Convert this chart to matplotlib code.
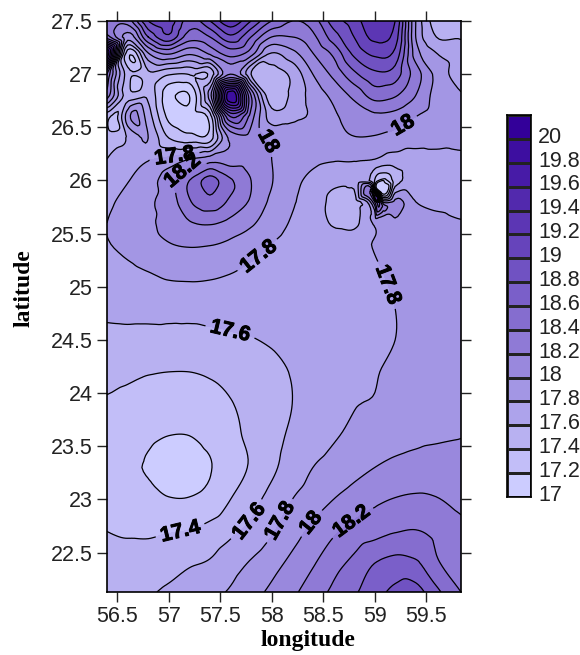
import numpy as np
import matplotlib
matplotlib.use('Agg')
import matplotlib.pyplot as plt
import matplotlib.tri as tri
import matplotlib.patheffects as pe

plt.rcParams['font.family'] = ['Liberation Sans', 'DejaVu Sans']

# grid values, rows run south to north
lon_values = [56.4, 56.6, 56.8, 57.0, 57.2, 57.4, 57.6, 57.8, 58.0, 58.2, 58.4,
              58.6, 58.8, 59.0, 59.2, 59.4, 59.6, 59.84]
lat_values = [22.13, 22.4, 22.7, 23.0, 23.3, 23.6, 23.9, 24.2, 24.5, 24.8, 25.1,
              25.4, 25.6, 25.8, 26.0, 26.2, 26.4, 26.6, 26.8, 27.0, 27.2, 27.35, 27.5]
value_grid = [
    [17.45, 17.55, 17.58, 17.63, 17.70, 17.75, 17.82, 17.93, 18.04, 18.16, 18.30, 18.44, 18.57, 18.72, 18.85, 18.88, 18.65, 18.40],
    [17.45, 17.47, 17.50, 17.53, 17.58, 17.62, 17.72, 17.82, 17.93, 18.05, 18.18, 18.33, 18.45, 18.60, 18.67, 18.63, 18.43, 18.30],
    [17.40, 17.38, 17.37, 17.39, 17.41, 17.47, 17.56, 17.65, 17.78, 17.92, 18.05, 18.17, 18.27, 18.33, 18.39, 18.41, 18.35, 18.25],
    [17.33, 17.29, 17.25, 17.21, 17.21, 17.26, 17.40, 17.53, 17.67, 17.80, 17.90, 18.00, 18.08, 18.16, 18.21, 18.23, 18.21, 18.15],
    [17.27, 17.22, 17.19, 17.14, 17.14, 17.19, 17.32, 17.42, 17.56, 17.69, 17.80, 17.87, 17.94, 18.00, 18.05, 18.08, 18.10, 18.12],
    [17.30, 17.27, 17.23, 17.20, 17.20, 17.25, 17.35, 17.44, 17.54, 17.63, 17.71, 17.78, 17.84, 17.88, 17.92, 17.95, 17.97, 17.99],
    [17.38, 17.36, 17.33, 17.32, 17.32, 17.34, 17.39, 17.46, 17.53, 17.60, 17.66, 17.72, 17.79, 17.81, 17.84, 17.87, 17.89, 17.92],
    [17.45, 17.43, 17.41, 17.40, 17.40, 17.42, 17.46, 17.50, 17.55, 17.61, 17.66, 17.70, 17.75, 17.79, 17.83, 17.86, 17.89, 17.92],
    [17.55, 17.55, 17.54, 17.54, 17.54, 17.55, 17.57, 17.59, 17.62, 17.65, 17.68, 17.71, 17.74, 17.77, 17.80, 17.84, 17.87, 17.90],
    [17.64, 17.65, 17.66, 17.66, 17.66, 17.67, 17.68, 17.68, 17.69, 17.70, 17.71, 17.72, 17.74, 17.76, 17.80, 17.84, 17.87, 17.90],
    [17.73, 17.74, 17.78, 17.82, 17.83, 17.82, 17.79, 17.75, 17.72, 17.71, 17.71, 17.72, 17.74, 17.78, 17.82, 17.86, 17.89, 17.92],
    [17.79, 17.85, 17.93, 17.99, 18.02, 18.01, 17.96, 17.88, 17.80, 17.74, 17.71, 17.70, 17.73, 17.81, 17.85, 17.88, 17.90, 17.93],
    [17.80, 17.87, 17.96, 18.07, 18.18, 18.22, 18.14, 18.03, 17.89, 17.78, 17.70, 17.58, 17.55, 17.83, 17.96, 17.90, 17.87, 17.82],
    [17.76, 17.86, 17.97, 18.08, 18.38, 18.52, 18.36, 18.17, 17.96, 17.82, 17.72, 17.55, 17.50, 18.40, 18.05, 17.80, 17.74, 17.70],
    [17.65, 17.79, 17.90, 18.13, 18.40, 18.68, 18.42, 18.20, 18.01, 17.85, 17.75, 17.65, 17.65, 17.40, 17.50, 17.62, 17.68, 17.66],
    [17.60, 17.72, 17.79, 17.85, 18.00, 18.10, 18.10, 18.10, 18.00, 17.92, 17.85, 17.82, 17.82, 17.80, 17.72, 17.70, 17.73, 17.76],
    [17.50, 17.62, 17.80, 17.40, 17.28, 17.30, 18.05, 18.12, 17.97, 17.93, 17.95, 17.97, 17.99, 17.98, 17.93, 17.90, 17.88, 17.85],
    [17.48, 17.90, 17.70, 17.15, 17.10, 17.30, 18.80, 18.30, 17.70, 17.75, 17.83, 17.97, 18.08, 18.15, 18.12, 18.00, 17.92, 17.87],
    [18.30, 17.50, 17.55, 17.08, 17.00, 17.90, 20.00, 18.40, 17.45, 17.65, 17.88, 18.05, 18.25, 18.48, 18.42, 18.20, 17.93, 17.82],
    [18.60, 17.50, 17.55, 17.42, 17.41, 17.45, 18.20, 17.60, 17.50, 17.65, 18.00, 18.25, 18.55, 18.75, 18.70, 18.30, 17.95, 17.65],
    [20.00, 17.30, 18.00, 18.25, 18.05, 18.25, 18.50, 18.30, 17.80, 17.95, 18.20, 18.45, 18.85, 19.05, 18.95, 18.10, 17.80, 17.68],
    [18.50, 17.90, 18.60, 18.95, 18.50, 18.60, 18.95, 18.60, 18.20, 18.20, 18.35, 18.70, 19.00, 19.25, 19.10, 18.00, 17.60, 17.58],
    [18.40, 18.30, 19.00, 19.10, 18.70, 19.00, 19.35, 19.00, 18.60, 18.40, 18.50, 18.90, 19.10, 19.35, 19.20, 18.00, 17.50, 17.45],
]

# spot readings between grid nodes, small features the grid misses
spot_lon = [59.02, 59.03, 59.12, 59.10, 59.05, 59.10, 58.95, 59.07, 56.67, 56.65, 56.46]
spot_lat = [25.83, 25.93, 26.03, 25.75, 25.78, 25.68, 25.93, 25.89, 26.90, 26.62, 26.57]
spot_value = [19.4, 16.8, 17.30, 18.30, 18.60, 18.02, 18.30, 16.90, 17.30, 18.05, 17.30]

levels = [17.0, 17.2, 17.4, 17.6, 17.8, 18.0, 18.2, 18.4, 18.6, 18.8, 19.0, 19.2,
          19.4, 19.6, 19.8, 20.0]
x_ticks = [56.5, 57, 57.5, 58, 58.5, 59, 59.5]
x_tick_labels = ['56.5', '57', '57.5', '58', '58.5', '59', '59.5']
y_ticks = [22.5, 23, 23.5, 24, 24.5, 25, 25.5, 26, 26.5, 27, 27.5]
y_tick_labels = ['22.5', '23', '23.5', '24', '24.5', '25', '25.5', '26', '26.5', '27', '27.5']
label_spots = [(57.11, 22.72), (57.76, 22.81), (58.10, 22.79), (58.37, 22.79),
               (58.78, 22.79), (57.61, 24.63), (57.87, 25.29), (59.13, 25.02),
               (59.24, 26.57), (57.95, 26.35), (57.06, 26.21), (57.11, 26.12)]

cmap = matplotlib.colors.LinearSegmentedColormap.from_list('purp', ['#ccccff', '#330099'])
band_colors = [cmap(i / 15) for i in range(16)]

W, H = 580, 655
fig = plt.figure(figsize=(W / 100, H / 100), dpi=100)
ax = fig.add_axes([107 / W, (H - 592) / H, 354 / W, 571 / H])

lon, lat = np.meshgrid(lon_values, lat_values)
all_lon = np.r_[lon.ravel(), spot_lon]
all_lat = np.r_[lat.ravel(), spot_lat]
all_z = np.r_[np.array(value_grid).ravel(), spot_value]
triang = tri.Triangulation(all_lon, all_lat)
interp = tri.CubicTriInterpolator(triang, all_z, kind='geom')
fine_tri, fine_z = tri.UniformTriRefiner(triang).refine_field(all_z, triinterpolator=interp, subdiv=3)

fill_levels = [5] + levels + [20.2, 40]
fill_colors = [band_colors[0]] + band_colors + [band_colors[-1]]
ax.tricontourf(fine_tri, fine_z, levels=fill_levels, colors=fill_colors)
lines = ax.tricontour(fine_tri, fine_z, levels=levels, colors='k', linewidths=0.9)

plt.rcParams['font.weight'] = 'bold'
texts = ax.clabel(lines, fmt='%g', fontsize=15, colors='k', inline=True, manual=label_spots)
plt.rcParams['font.weight'] = 'normal'
for t in texts:
    t.set_path_effects([pe.withStroke(linewidth=0.7, foreground='k')])

ax.set_xlim(56.4, 59.84)
ax.set_ylim(22.13, 27.5)
ax.set_xticks(x_ticks, x_tick_labels)
ax.set_yticks(y_ticks, y_tick_labels)
ax.tick_params(direction='out', length=7, width=1, top=True, right=True,
               labelsize=15.5, colors='#222222', pad=3)
for s in ax.spines.values():
    s.set_linewidth(1.2)
ax.set_xlabel('longitude', family='Liberation Serif', fontweight='bold', fontsize=17)
ax.set_ylabel('latitude', family='Liberation Serif', fontweight='bold', fontsize=17)
ax.xaxis.set_label_coords(0.568, -0.067)
ax.yaxis.set_label_coords(-0.205, 0.532)

# colour key: one box per level
cax = fig.add_axes([507 / W, (H - 497) / H, 24 / W, 382 / H])
edges = levels + [20.2]
cax.pcolormesh([0, 1], edges, np.array(levels[:]).reshape(-1, 1),
               cmap=matplotlib.colors.ListedColormap(band_colors),
               edgecolors='#222222', linewidth=0.9)
cax.set_xticks([])
cax.set_yticks(np.array(levels) + 0.035, [f'{v:g}' for v in levels])
cax.yaxis.tick_right()
cax.tick_params(length=0, labelsize=15.5, colors='#222222', pad=5)
for s in cax.spines.values():
    s.set_linewidth(1.2)

fig.savefig('out.png', dpi=100)
